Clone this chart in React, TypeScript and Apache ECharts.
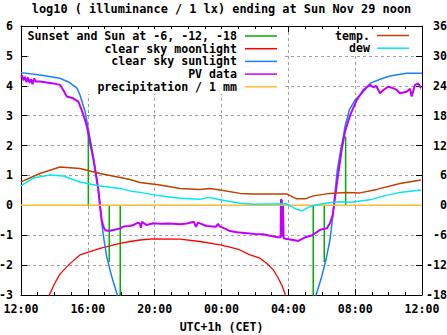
import React, { useEffect, useRef } from "react";
import * as echarts from "echarts";

// hours after 12:00 (Sat) -> value
const xTickHours = [0, 4, 8, 12, 16, 20, 24];
const leftTicks = [-3, -2, -1, 0, 1, 2, 3, 4, 5, 6];
const rightTicks = [-18, -12, -6, 0, 6, 12, 18, 24, 30, 36];

const sunEventHours = [4.03, 5.28, 5.94, 17.49, 18.15, 19.43];
const sunEventLevels = [2.59, -1.9, -3.2, -3.2, -1.9, 2.3];

const moonLight: [number, number][] = [
  [1.6, -3.2], [1.69, -3.0], [2.03, -2.6], [2.33, -2.3], [2.93, -1.95], [3.53, -1.66],
  [4.13, -1.55], [4.73, -1.44], [5.33, -1.36], [5.93, -1.27], [6.52, -1.21],
  [7.12, -1.16], [7.9, -1.12], [9.52, -1.13], [10.71, -1.21], [11.91, -1.32],
  [12.51, -1.4], [13.0, -1.47], [13.71, -1.66], [14.3, -1.77], [14.7, -1.94],
  [15.1, -2.16], [15.4, -2.44], [15.6, -2.66], [15.8, -2.96], [15.85, -3.1],
];

const sunLightEvening: [number, number][] = [
  [0, 4.44], [1.14, 4.36], [2.33, 4.25], [2.93, 4.1], [3.35, 3.92], [3.53, 3.69],
  [3.83, 3.15], [3.93, 2.85], [4.13, 2.24], [4.33, 1.63], [4.49, 1.07], [4.63, 0.51],
  [4.73, 0.07], [4.83, -0.59], [4.97, -1.16], [5.13, -1.72], [5.43, -2.38],
  [5.73, -2.94], [5.8, -3.1],
];
const sunLightMorning: [number, number][] = [
  [17.62, -3.1], [17.66, -3.0], [18.0, -2.38], [18.25, -1.83], [18.49, -1.16],
  [18.66, -0.38], [18.79, 0.4], [18.93, 1.18], [19.13, 1.85], [19.29, 2.3],
  [19.39, 2.63], [19.65, 3.19], [19.99, 3.52], [20.49, 3.8], [20.89, 4.08],
  [21.49, 4.22], [22.08, 4.33], [23.08, 4.42], [24, 4.42],
];

const pvData: [number, number][] = [
  [0, 4.3], [0.06, 4.36], [0.15, 4.18], [0.24, 4.3], [0.33, 4.12], [0.42, 4.28],
  [0.51, 4.1], [0.6, 4.22], [0.69, 4.05], [0.78, 4.24], [0.9, 4.14], [1.14, 4.14],
  [1.93, 4.08], [2.33, 4.03], [2.53, 3.86], [2.74, 3.64], [3.13, 3.58], [3.43, 3.47],
  [3.63, 3.19], [3.83, 2.86], [3.95, 2.62], [4.13, 2.1], [4.33, 1.55], [4.49, 1.0],
  [4.63, 0.51], [4.73, -0.04], [4.83, -0.49], [4.93, -0.71], [5.03, -0.82],
  [5.13, -0.85], [5.33, -0.85], [5.73, -0.8], [5.93, -0.77], [6.12, -0.71],
  [6.52, -0.69], [6.72, -0.66], [7.0, -0.58], [7.12, -0.62], [7.18, -0.75],
  [7.24, -0.55], [7.52, -0.66], [7.92, -0.6], [8.32, -0.62], [8.92, -0.61],
  [9.52, -0.63], [9.92, -0.61], [10.35, -0.55], [10.47, -0.72], [10.59, -0.58],
  [11.11, -0.69], [11.67, -0.72], [11.79, -0.62], [11.91, -0.71], [12.21, -0.78],
  [12.51, -0.86], [12.93, -0.9], [13.51, -0.93], [14.0, -0.96], [14.5, -0.97],
  [14.9, -1.02], [15.4, -1.07], [15.54, -1.07], [15.56, 0.2], [15.61, 0.15],
  [15.64, -1.05], [15.68, 0.0], [15.72, -1.1], [15.9, -1.13], [16.3, -1.16],
  [16.6, -1.19], [17.0, -1.07], [17.4, -1.01], [17.9, -0.82], [18.3, -0.77],
  [18.49, -0.6], [18.66, -0.32], [18.79, 0.25], [18.99, 1.07], [19.19, 1.85],
  [19.39, 2.46], [19.69, 3.0], [20.09, 3.52], [20.49, 3.86], [20.89, 4.03],
  [21.09, 3.95], [21.25, 4.0], [21.49, 3.75], [21.69, 3.86], [21.98, 3.97],
  [22.26, 3.92], [22.49, 3.86], [22.68, 3.75], [23.08, 3.8], [23.28, 3.9],
  [23.38, 3.64], [23.58, 4.03], [23.78, 4.08], [23.94, 3.92],
];

const precipitation: [number, number][] = [[0, 0], [24, 0]];

// degrees C (right axis)
const temperature: [number, number][] = [
  [0, 4.7], [1.14, 6.4], [2.33, 7.7], [3.53, 7.4], [4.73, 6.4], [5.93, 5.6],
  [6.52, 5.2], [7.12, 4.6], [8.32, 4.1], [9.52, 3.4], [10.71, 3.2], [11.31, 3.4],
  [11.91, 3.1], [13.11, 2.4], [13.89, 2.3], [15.5, 2.3], [15.9, 2.3], [16.5, 1.3],
  [17.0, 1.3], [17.49, 1.9], [18.49, 2.4], [19.49, 2.6], [20.29, 2.5], [21.29, 3.2],
  [22.68, 4.4], [23.94, 5.1],
];
const dewPoint: [number, number][] = [
  [0, 3.9], [0.74, 5.5], [1.74, 6.1], [2.53, 5.9], [3.53, 4.7], [4.13, 4.3],
  [4.73, 3.9], [5.93, 3.4], [6.52, 2.9], [7.12, 2.6], [8.32, 1.9], [9.52, 1.4],
  [10.71, 1.2], [11.19, 1.6], [11.91, 1.1], [13.11, 0.4], [13.89, 0.2], [15.9, 0.3],
  [16.5, -0.8], [16.8, -1.1], [17.3, -0.2], [17.9, 0.2], [18.49, 0.5], [19.09, 0.7],
  [19.69, 0.6], [20.89, 1.1], [21.49, 1.7], [22.68, 2.6], [23.94, 3.1],
];

const titleText = "log10 ( illuminance / 1 lx) ending at Sun Nov 29 noon";
const xAxisName = "UTC+1h (CET)";
const leftLegend = [
  { label: "Sunset and Sun at -6, -12, -18", color: "#00b000" },
  { label: "clear sky moonlight", color: "#ff0000" },
  { label: "clear sky sunlight", color: "#1a7fff" },
  { label: "PV data", color: "#c000ff" },
  { label: "precipitation / 1 mm", color: "#ffbb33" },
];
const rightLegend = [
  { label: "temp.", color: "#c04000" },
  { label: "dew", color: "#00e8ee" },
];

const FONT = '"DejaVu Sans Mono", monospace';

export default function App() {
  const ref = useRef<HTMLDivElement>(null);
  useEffect(() => {
    if (!ref.current) return;
    const chart = echarts.init(ref.current, null, { renderer: "svg" });

    const greenSegs: any[] = [];
    sunEventHours.forEach((h, i) => {
      greenSegs.push([h, 0], [h, sunEventLevels[i]], [h, "-"]);
    });
    const clearSky: any[] = [...sunLightEvening, [12, "-"], ...sunLightMorning];

    const fmt = (v: number) => {
      const h = (12 + Math.round(v)) % 24;
      return String(h).padStart(2, "0") + ":00";
    };
    const fmtRight = (v: number) => String(v).padStart(3, "\u00a0");

    const labelStyle = { fontFamily: FONT, fontWeight: "bold" as const, fontSize: 11.6, color: "#000" };
    const gridDash = { show: true, lineStyle: { color: "#a0a0a0", type: [3, 3] as any, width: 1 } };
    const axisLine = { show: true, onZero: false, lineStyle: { color: "#000", width: 1 } };

    const graphics: any[] = [
      { type: "text", x: 221.5, y: 9, z: 10, style: { text: titleText, font: `bold 11.9px ${FONT}`, fill: "#000", textAlign: "center", textVerticalAlign: "middle" } },
      { type: "text", x: 221.5, y: 327, z: 10, style: { text: xAxisName, font: `bold 11.6px ${FONT}`, fill: "#000", textAlign: "center", textVerticalAlign: "middle" } },
      { type: "rect", z: 1, shape: { x: 29, y: 29, width: 254, height: 65 }, style: { fill: "#fff" } },
      { type: "rect", z: 1, shape: { x: 330, y: 29, width: 90, height: 24 }, style: { fill: "#fff" } },
    ];
    const rowY = [36, 48.7, 61.4, 74.1, 86.8];
    leftLegend.forEach((it, i) => {
      graphics.push({ type: "text", x: 237, y: rowY[i], z: 10, style: { text: it.label, font: `bold 11.6px ${FONT}`, fill: "#000", textAlign: "right", textVerticalAlign: "middle" } });
      graphics.push({ type: "line", z: 10, shape: { x1: 245, y1: rowY[i], x2: 277, y2: rowY[i] }, style: { stroke: it.color, lineWidth: 1.5 } });
    });
    rightLegend.forEach((it, i) => {
      graphics.push({ type: "text", x: 370, y: rowY[i] - 0.5, z: 10, style: { text: it.label, font: `bold 11.6px ${FONT}`, fill: "#000", textAlign: "right", textVerticalAlign: "middle" } });
      graphics.push({ type: "line", z: 10, shape: { x1: 377, y1: rowY[i] - 0.5, x2: 409, y2: rowY[i] - 0.5 }, style: { stroke: it.color, lineWidth: 1.5 } });
    });

    const lineSeries = (name: string, data: any[], color: string, width: number, yAxisIndex = 0) => ({
      name, type: "line", data, yAxisIndex, xAxisIndex: 0, symbol: "none", showSymbol: false,
      connectNulls: false, clip: true, lineStyle: { color, width }, z: 2, silent: true,
    });

    chart.setOption({
      animation: false,
      backgroundColor: "#fff",
      grid: { left: 21, right: 25, top: 26, bottom: 40, containLabel: false, outerBoundsMode: "none" },
      xAxis: [
        {
          type: "value", min: xTickHours[0], max: xTickHours[xTickHours.length - 1], interval: 4, position: "bottom",
          axisLine,
          axisTick: { show: true, inside: true, length: 6, lineStyle: { color: "#000" } },
          minorTick: { show: true, splitNumber: 4, length: 3, lineStyle: { color: "#000" } },
          axisLabel: { ...labelStyle, margin: 8, formatter: fmt },
          splitLine: gridDash,
        },
        {
          type: "value", min: 0, max: 24, interval: 4, position: "top",
          axisLine,
          axisTick: { show: true, inside: true, length: 6, lineStyle: { color: "#000" } },
          minorTick: { show: true, splitNumber: 4, length: 3, lineStyle: { color: "#000" } },
          axisLabel: { show: false },
          splitLine: { show: false },
        },
      ],
      yAxis: [
        {
          type: "value", min: leftTicks[0], max: leftTicks[leftTicks.length - 1], interval: 1, position: "left",
          axisLine,
          axisTick: { show: true, inside: true, length: 6, lineStyle: { color: "#000" } },
          axisLabel: { ...labelStyle, margin: 8 },
          splitLine: gridDash,
        },
        {
          type: "value", min: rightTicks[0], max: rightTicks[rightTicks.length - 1], interval: 6, position: "right",
          axisLine,
          axisTick: { show: true, inside: true, length: 6, lineStyle: { color: "#000" } },
          axisLabel: { ...labelStyle, margin: 4, align: "left", formatter: fmtRight },
          splitLine: { show: false },
        },
      ],
      graphic: graphics,
      series: [
        lineSeries("Sunset and Sun", greenSegs, "#00b000", 1.5),
        lineSeries("clear sky moonlight", moonLight, "#ff0000", 1.3),
        lineSeries("clear sky sunlight", clearSky, "#1a7fff", 1.5),
        lineSeries("PV data", pvData, "#c000ff", 2),
        lineSeries("precipitation", precipitation, "#ffbb33", 1.5),
        lineSeries("temp.", temperature, "#c04000", 1.5, 1),
        lineSeries("dew", dewPoint, "#00e8ee", 1.5, 1),
      ],
    });
    return () => chart.dispose();
  }, []);
  return <div ref={ref} style={{ position: "fixed", left: 0, top: 0, width: 447, height: 335, background: "#fff" }} />;
}
